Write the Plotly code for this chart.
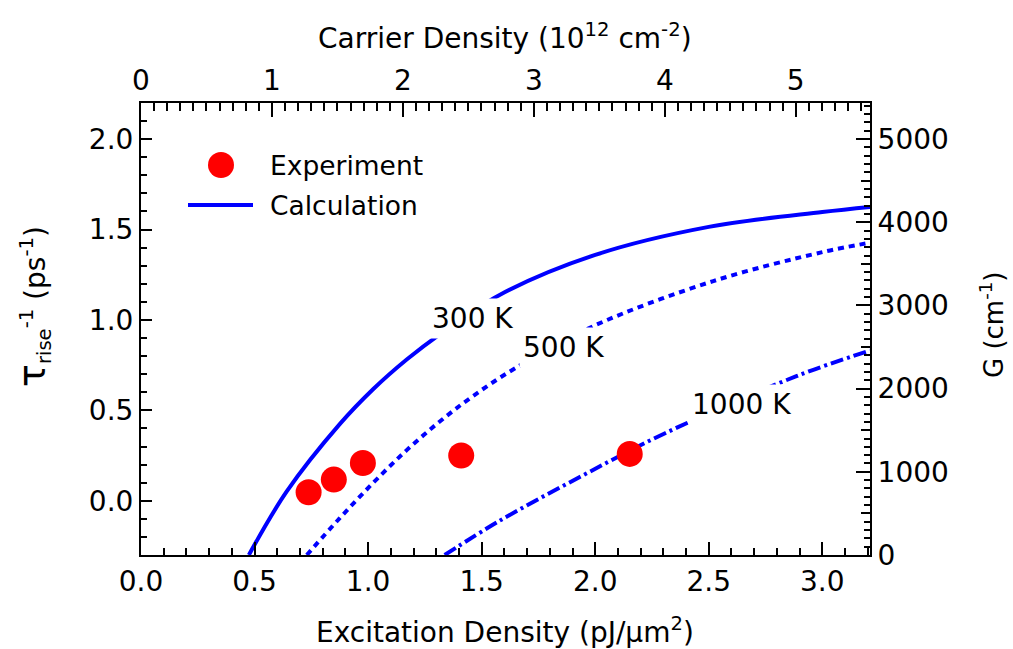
import plotly.graph_objects as go

# Measured rise rates (ps^-1) versus excitation density (pJ/um^2)
exc_exp = [0.738, 0.849, 0.977, 1.41, 2.152]
rate_exp = [0.047, 0.117, 0.209, 0.250, 0.259]

# Calculated curves for three carrier temperatures
exc_300 = [0.475, 0.641, 0.876, 1.023, 1.17, 1.317, 1.581, 2.0, 2.5, 3.0, 3.21]
rate_300 = [-0.30, 0.05, 0.425, 0.618, 0.781, 0.922, 1.14, 1.36, 1.515, 1.597, 1.625]

exc_500 = [0.73, 0.876, 1.023, 1.17, 1.317, 1.463, 1.65, 1.99, 2.52, 3.0, 3.21]
rate_500 = [-0.30, -0.095, 0.10, 0.28, 0.44, 0.58, 0.735, 0.965, 1.215, 1.375, 1.427]

exc_1000 = [1.337, 1.58, 1.93, 2.31, 2.886, 3.21]
rate_1000 = [-0.30, -0.11, 0.13, 0.375, 0.689, 0.831]

curve_labels = ["300 K", "500 K", "1000 K"]
label_x = [1.46, 1.86, 2.646]
label_y = [1.007, 0.849, 0.534]

X_RANGE = [0, 3.21]
X2_RANGE = [0, 5.567]
Y_RANGE = [-0.3, 2.2]
Y2_RANGE = [0, 5433]

FONT = "DejaVu Sans"
FS = 28
LEG_FS = 26.5
BLUE = "#0000ff"
RED = "#ff0000"

W, H = 1013, 649
L, R, T, B = 141, 143, 103, 94
PW, PH = W - L - R, H - T - B


def px(xp):
    return (xp - L) / PW


def py(yp):
    return (H - B - yp) / PH


fig = go.Figure()

fig.add_trace(go.Scatter(x=exc_300, y=rate_300, mode="lines",
                         line=dict(color=BLUE, width=4, shape="spline"),
                         showlegend=False))
fig.add_trace(go.Scatter(x=exc_500, y=rate_500, mode="lines",
                         line=dict(color=BLUE, width=4, shape="spline", dash="6px,5px"),
                         showlegend=False))
fig.add_trace(go.Scatter(x=exc_1000, y=rate_1000, mode="lines",
                         line=dict(color=BLUE, width=4, shape="spline",
                                   dash="13px,4px,3px,4px"),
                         showlegend=False))
fig.add_trace(go.Scatter(x=exc_exp, y=rate_exp, mode="markers",
                         marker=dict(color=RED, size=26, line=dict(width=0)),
                         cliponaxis=False, showlegend=False))

# placeholder traces so the secondary axes are drawn
fig.add_trace(go.Scatter(x=[], y=[], xaxis="x2", yaxis="y", showlegend=False))
fig.add_trace(go.Scatter(x=[], y=[], xaxis="x", yaxis="y2", showlegend=False))
fig.add_trace(go.Scatter(x=[], y=[], xaxis="x", yaxis="y3", showlegend=False))

tickfont = dict(family=FONT, size=FS, color="black")
common = dict(showgrid=False, zeroline=False, showline=True, linecolor="black",
              linewidth=2, ticks="inside", tickcolor="black", tickwidth=2,
              tickfont=tickfont)

fig.update_layout(
    width=W, height=H,
    margin=dict(l=L, r=R, t=T, b=B, pad=0),
    paper_bgcolor="white", plot_bgcolor="white",
    font=dict(family=FONT, size=FS, color="black"),
    xaxis=dict(range=X_RANGE, dtick=0.5, tick0=0, tickformat=".1f", ticklen=13,
               minor=dict(dtick=0.1, ticklen=7, ticks="inside", tickcolor="black",
                          tickwidth=1.5),
               anchor="y", side="bottom", **common),
    xaxis2=dict(range=X2_RANGE, dtick=1, tick0=0, ticklen=14,
                minor=dict(dtick=0.1, ticklen=8, ticks="inside", tickcolor="black",
                           tickwidth=1.5),
                overlaying="x", side="top", anchor="y", **common),
    yaxis=dict(range=Y_RANGE, dtick=0.5, tick0=0, tickformat=".1f", ticklen=11,
               minor=dict(dtick=0.1, ticklen=6, ticks="inside", tickcolor="black",
                          tickwidth=1.5),
               anchor="x", side="left", **common),
    yaxis2=dict(range=Y2_RANGE, dtick=1000, tick0=0, ticklen=14,
                minor=dict(dtick=100, ticklen=6, ticks="inside", tickcolor="black",
                           tickwidth=1.5),
                overlaying="y", side="right", anchor="x", **common),
    yaxis3=dict(range=Y2_RANGE, tickvals=[500, 1500, 2500, 3500, 4500, 5500],
                ticks="inside", ticklen=9, tickcolor="black", tickwidth=1.5,
                showticklabels=False, showgrid=False, zeroline=False,
                showline=False, overlaying="y", side="right", anchor="x"),
)

annotations = []
for text, lx, ly in zip(curve_labels, label_x, label_y):
    annotations.append(dict(x=lx, y=ly, xref="x", yref="y", text=text,
                            showarrow=False, bgcolor="white", borderpad=3,
                            font=dict(family=FONT, size=FS, color="black")))

# legend
annotations.append(dict(x=px(268), y=py(165), xref="paper", yref="paper",
                        text="Experiment", showarrow=False, xanchor="left",
                        yanchor="middle", font=dict(family=FONT, size=LEG_FS)))
annotations.append(dict(x=px(268), y=py(205), xref="paper", yref="paper",
                        text="Calculation", showarrow=False, xanchor="left",
                        yanchor="middle", font=dict(family=FONT, size=LEG_FS)))

# axis titles
annotations.append(dict(x=px(505), y=py(630), xref="paper", yref="paper",
                        text="Excitation Density (pJ/\u00b5m<sup>2</sup>)",
                        showarrow=False, xanchor="center", yanchor="middle",
                        font=dict(family=FONT, size=FS)))
annotations.append(dict(x=px(505), y=py(36), xref="paper", yref="paper",
                        text="Carrier Density (10<sup>12</sup> cm<sup>-2</sup>)",
                        showarrow=False, xanchor="center", yanchor="middle",
                        font=dict(family=FONT, size=FS)))
annotations.append(dict(x=px(33), y=py(307), xref="paper", yref="paper",
                        text="<span style='font-size:38px'>\u03c4</span><sub>rise</sub><sup>-1</sup> (ps<sup>-1</sup>)",
                        showarrow=False, textangle=-90, xanchor="center",
                        yanchor="middle", font=dict(family=FONT, size=FS)))
annotations.append(dict(x=px(992), y=py(325), xref="paper", yref="paper",
                        text="G (cm<sup>-1</sup>)",
                        showarrow=False, textangle=-90, xanchor="center",
                        yanchor="middle", font=dict(family=FONT, size=26)))

shapes = [
    dict(type="circle", xref="paper", yref="paper", xsizemode="pixel",
         ysizemode="pixel", xanchor=px(221), yanchor=py(165),
         x0=-13, x1=13, y0=-13, y1=13, fillcolor=RED, line=dict(width=0)),
    dict(type="line", xref="paper", yref="paper", x0=px(188), x1=px(253),
         y0=py(205), y1=py(205), line=dict(color=BLUE, width=4)),
]

fig.update_layout(annotations=annotations, shapes=shapes)

fig.write_html("out.html")
